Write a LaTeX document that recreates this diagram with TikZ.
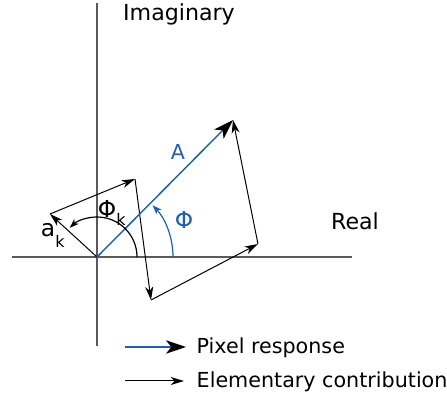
\documentclass[tikz,border=0pt]{standalone}
\usepackage{fontspec}
\setmainfont{DejaVu Sans}
\usetikzlibrary{arrows.meta, positioning}
\definecolor{response}{HTML}{1F5FAF}
\definecolor{axisgray}{HTML}{5A5A5A}

\begin{document}
\begin{tikzpicture}[
    x=0.75pt, y=-0.75pt,
    axis/.style={axisgray, line width=0.9pt},
    contrib/.style={-{Stealth[length=10pt, width=6pt, inset=3pt]}, line width=0.75pt},
    pixel/.style={-{Stealth[length=15pt, width=10pt, inset=4pt, black]}, response, line width=1.1pt},
    angarc/.style={-{Stealth[length=7pt, width=5pt, inset=2pt]}, line width=0.9pt},
    label/.style={font=\fontsize{15.5}{18}\selectfont},
    axislabel/.style={font=\fontsize{16.6}{20}\selectfont},
    biglabel/.style={font=\fontsize{17.5}{20}\selectfont},
    sub/.style={font=\fontsize{12}{14}\selectfont}
  ]
    \useasboundingbox (0,0) rectangle (447,402);

    % axes
    \coordinate (O) at (97,257);
    \coordinate (xmin) at (12,257);
    \coordinate (xmax) at (352,257);
    \coordinate (ymin) at (97,346);
    \coordinate (ymax) at (97,3);
    \draw[axis] (xmin) -- (xmax);
    \draw[axis] (ymin) -- (ymax);
    \node[axislabel] (imag) at (179,14) {Imaginary};
    \node[axislabel] (real) at (355,221) {Real};

    % elementary contributions, head to tail
    \coordinate (P1) at (50,214);
    \coordinate (P2) at (135,179);
    \coordinate (P3) at (151,300);
    \coordinate (P4) at (258,244);
    \coordinate (P5) at (233,120);
    \draw[contrib] (O) -- (P1);
    \draw[contrib] (P1) -- (P2);
    \draw[contrib] (P2) -- (P3);
    \draw[contrib] (P3) -- (P4);
    \draw[contrib] (P4) -- (P5);

    % pixel response
    \draw[pixel] (O) -- (P5);
    \node[label, text=response] (A) at (178,152) {A};

    % angles (y axis points down, so angles are negative)
    \draw[angarc, response] (O) ++(0:76) arc[start angle=0, end angle=-43, radius=76];
    \node[biglabel, text=response] (phi) at (184,220) {Φ};
    \draw[angarc] (O) ++(0:40) arc[start angle=0, end angle=-133, radius=40];
    \node[biglabel] (phik) at (107,209) {Φ};
    \node[sub] (phisub) at (121,219) {k};
    \node[biglabel] (ak) at (48,230) {a};
    \node[sub] (aksub) at (60,241) {k};

    % legend
    \coordinate (L1s) at (125,347);
    \coordinate (L1e) at (186,347);
    \coordinate (L2s) at (125,381);
    \coordinate (L2e) at (184,381);
    \draw[pixel] (L1s) -- (L1e);
    \draw[contrib] (L2s) -- (L2e);
    \node[label, anchor=west] (pixtext) at (192,348) {Pixel response};
    \node[label, anchor=west] (elemtext) at (192,382) {Elementary contribution};
  \end{tikzpicture}
\end{document}
